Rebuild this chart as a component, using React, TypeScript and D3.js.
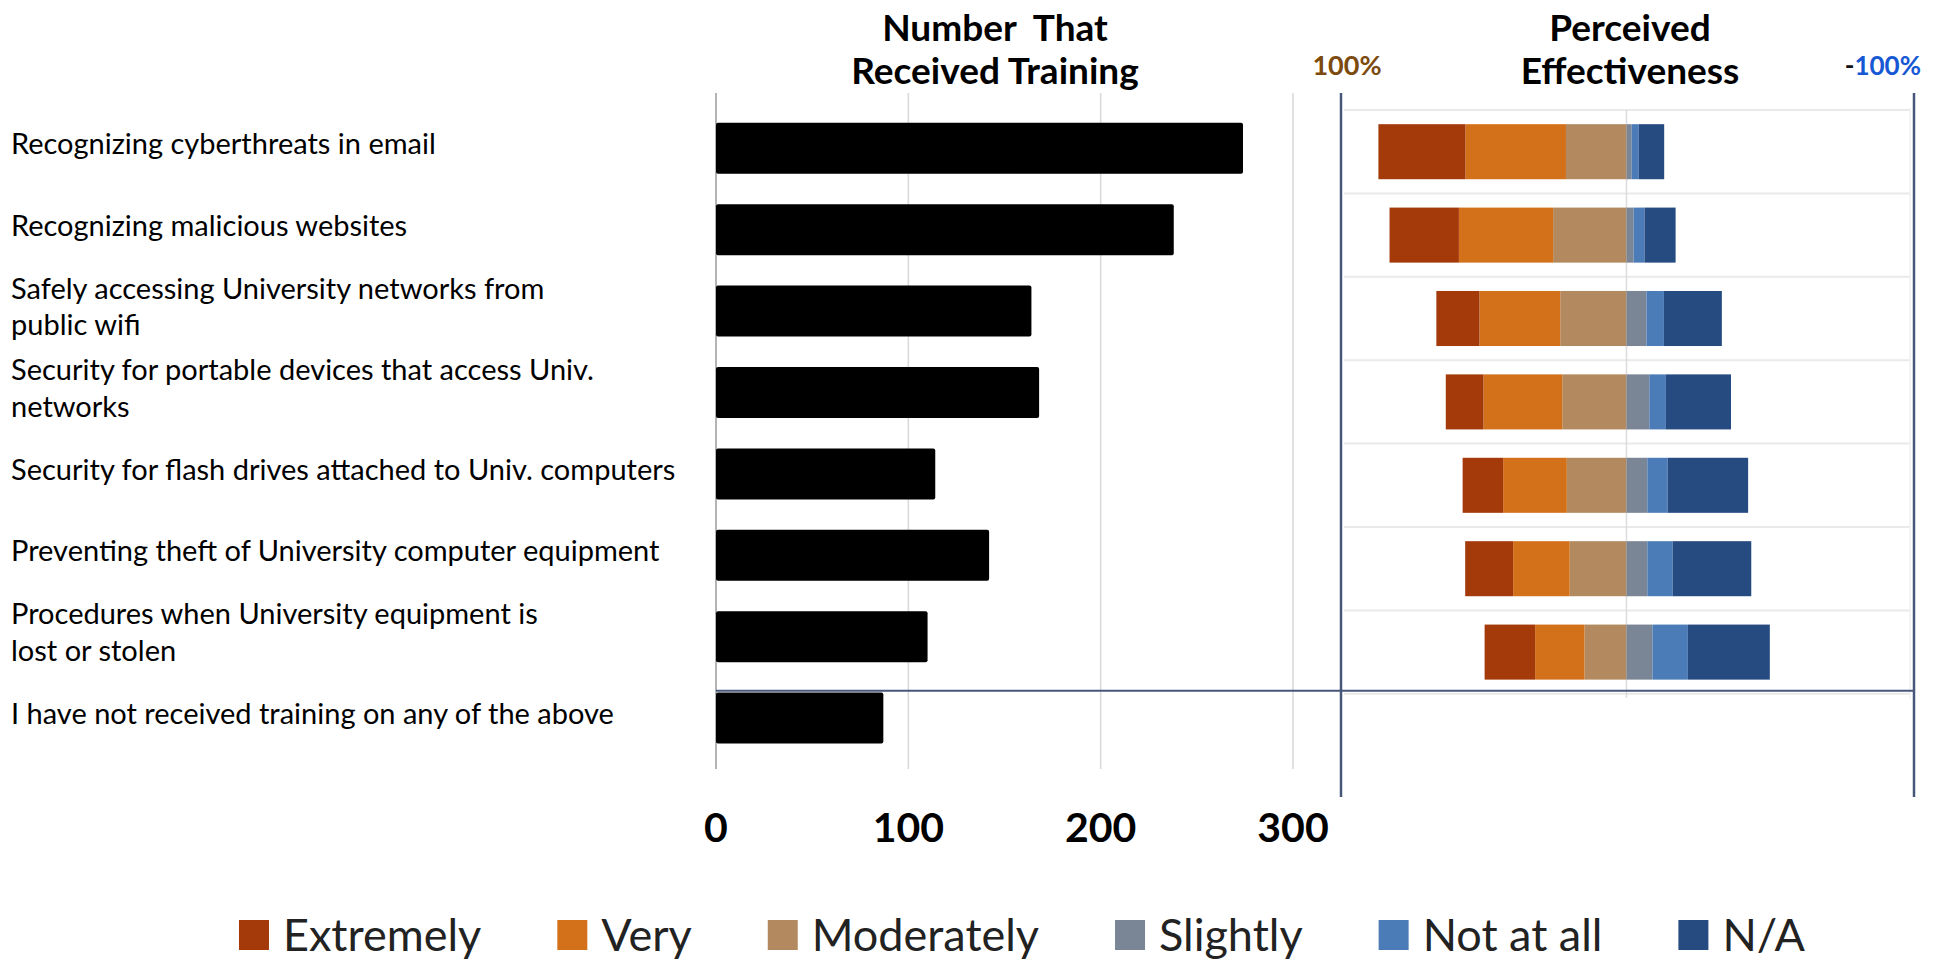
import React, { useEffect, useRef } from "react";
import * as d3 from "d3";

// Training topics (rows, top to bottom)
const topics: string[][] = [
  ["Recognizing cyberthreats in email"],
  ["Recognizing malicious websites"],
  ["Safely accessing University networks from", "public wifi"],
  ["Security for portable devices that access Univ.", "networks"],
  ["Security for flash drives attached to Univ. computers"],
  ["Preventing theft of University computer equipment"],
  ["Procedures when University equipment is", "lost or stolen"],
  ["I have not received training on any of the above"],
];

// Number of respondents that received each training
const trainedCounts: number[] = [274, 238, 164, 168, 114, 142, 110, 87];

// Perceived effectiveness (% of respondents) for the first seven topics
const extremely: number[] = [30.5, 24.3, 15.1, 13.2, 14.2, 16.8, 17.7];
const very: number[] = [35.2, 33.0, 28.3, 27.6, 22.3, 19.8, 17.3];
const moderately: number[] = [21.2, 25.7, 23.2, 22.5, 20.9, 19.9, 14.7];
const slightly: number[] = [1.8, 2.5, 7.0, 8.0, 7.3, 7.3, 9.1];
const notAtAll: number[] = [2.5, 3.8, 6.1, 5.8, 7.1, 8.9, 12.4];
const notApplicable: number[] = [8.9, 10.9, 20.3, 22.8, 28.2, 27.5, 28.7];

const countTicks: number[] = [0, 100, 200, 300];

const seriesNames = ["Extremely", "Very", "Moderately", "Slightly", "Not at all", "N/A"];
const seriesColors = ["#A43A0A", "#D3711B", "#B38A5F", "#7A8595", "#4C7CB8", "#264B80"];

const FONT = "Lato, 'Open Sans', sans-serif";

export default function App() {
  const ref = useRef<SVGSVGElement | null>(null);

  useEffect(() => {
    const svg = d3.select(ref.current);
    svg.selectAll("*").remove();

    const rows = topics.map((_, i) => i);

    // ---------- left panel: number trained ----------
    const x = d3.scaleLinear().domain([0, 300]).range([716, 1293]);
    const y = d3
      .scaleBand<number>()
      .domain(rows)
      .range([107.6, 758.8])
      .paddingInner(0.373)
      .paddingOuter(0.1865);

    const left = svg.append("g");
    left
      .selectAll("line.grid")
      .data(countTicks.filter((t) => t > 0))
      .join("line")
      .attr("x1", (d) => x(d))
      .attr("x2", (d) => x(d))
      .attr("y1", 93)
      .attr("y2", 769)
      .attr("stroke", "#dadada")
      .attr("stroke-width", 1.6);

    left
      .append("line")
      .attr("x1", x(0))
      .attr("x2", x(0))
      .attr("y1", 93)
      .attr("y2", 769)
      .attr("stroke", "#b4b4b4")
      .attr("stroke-width", 2);

    left
      .selectAll("rect.bar")
      .data(trainedCounts)
      .join("rect")
      .attr("x", x(0))
      .attr("y", (_, i) => y(i)!)
      .attr("width", (d) => x(d) - x(0))
      .attr("height", y.bandwidth())
      .attr("rx", 2)
      .attr("fill", "#000");

    left
      .selectAll("text.tick")
      .data(countTicks)
      .join("text")
      .attr("x", (d) => x(d))
      .attr("y", 842)
      .attr("text-anchor", "middle")
      .attr("font-family", FONT)
      .attr("font-weight", 700)
      .attr("font-size", 41)
      .attr("fill", "#000")
      .text((d) => String(d));

    // category labels
    const labels = svg.append("g");
    const lineH = 36.6;
    topics.forEach((lines, i) => {
      const cy = y(i)! + y.bandwidth() / 2;
      const first = cy - ((lines.length - 1) * lineH) / 2 + 6;
      const t = labels
        .append("text")
        .attr("font-family", FONT)
        .attr("font-size", 29)
        .attr("fill", "#000");
      lines.forEach((ln, k) => {
        t.append("tspan").attr("x", 11).attr("y", first + k * lineH).text(ln);
      });
    });

    // ---------- right panel: perceived effectiveness ----------
    const xr = d3.scaleLinear().domain([100, -100]).range([1341, 1912]);
    const effRows = extremely.map((_, i) => i);
    const yr = d3
      .scaleBand<number>()
      .domain(effRows)
      .range([110, 693.8])
      .paddingInner(0.34)
      .paddingOuter(0.17);

    const right = svg.append("g");
    const bounds = effRows.map((i) => yr(i)! - (yr.step() * yr.paddingInner()) / 2);
    bounds.push(yr.range()[1]);
    right
      .selectAll("line.hgrid")
      .data(bounds)
      .join("line")
      .attr("x1", 1344)
      .attr("x2", 1910)
      .attr("y1", (d) => d)
      .attr("y2", (d) => d)
      .attr("stroke", "#e9e9e9")
      .attr("stroke-width", 2);

    right
      .append("line")
      .attr("x1", 1910)
      .attr("x2", 1910)
      .attr("y1", 108)
      .attr("y2", 698)
      .attr("stroke", "#f0f0f0")
      .attr("stroke-width", 1.5);

    right
      .append("line")
      .attr("x1", xr(0))
      .attr("x2", xr(0))
      .attr("y1", 110)
      .attr("y2", 698)
      .attr("stroke", "#dcdcdc")
      .attr("stroke-width", 1.5);

    // positive responses stack to the left of centre, negative ones to the right
    const positive = [moderately, very, extremely];
    const positiveIdx = [2, 1, 0];
    const negative = [slightly, notAtAll, notApplicable];
    const negativeIdx = [3, 4, 5];

    effRows.forEach((i) => {
      let acc = 0;
      positive.forEach((arr, k) => {
        const v = arr[i];
        right
          .append("rect")
          .attr("x", xr(acc + v))
          .attr("y", yr(i)!)
          .attr("width", xr(acc) - xr(acc + v))
          .attr("height", yr.bandwidth())
          .attr("fill", seriesColors[positiveIdx[k]]);
        acc += v;
      });
      acc = 0;
      negative.forEach((arr, k) => {
        const v = arr[i];
        right
          .append("rect")
          .attr("x", xr(-acc))
          .attr("y", yr(i)!)
          .attr("width", xr(-(acc + v)) - xr(-acc))
          .attr("height", yr.bandwidth())
          .attr("fill", seriesColors[negativeIdx[k]]);
        acc += v;
      });
    });

    // frame lines and the separator under the last rated topic
    const frame = "#47577a";
    [1341, 1914].forEach((fx) => {
      svg
        .append("line")
        .attr("x1", fx)
        .attr("x2", fx)
        .attr("y1", 93)
        .attr("y2", 797)
        .attr("stroke", frame)
        .attr("stroke-width", 2.5);
    });
    svg
      .append("line")
      .attr("x1", x(0))
      .attr("x2", 1914)
      .attr("y1", yr.range()[1] - 3)
      .attr("y2", yr.range()[1] - 3)
      .attr("stroke", frame)
      .attr("stroke-width", 2);

    // ---------- titles ----------
    const titleAttrs = (sel: any) =>
      sel
        .attr("text-anchor", "middle")
        .attr("font-family", FONT)
        .attr("font-weight", 700)
        .attr("font-size", 37)
        .attr("fill", "#000")
        .style("white-space", "pre");
    titleAttrs(svg.append("text").attr("x", 995).attr("y", 41)).text("Number  That");
    titleAttrs(svg.append("text").attr("x", 995).attr("y", 84)).text("Received Training");
    titleAttrs(svg.append("text").attr("x", 1630).attr("y", 41)).text("Perceived");
    titleAttrs(svg.append("text").attr("x", 1630).attr("y", 84)).text("Effectiveness");

    svg
      .append("text")
      .attr("x", xr(100) + 6)
      .attr("y", 74.5)
      .attr("text-anchor", "middle")
      .attr("font-family", FONT)
      .attr("font-weight", 700)
      .attr("font-size", 27)
      .attr("fill", "#7d4a0e")
      .text("100%");

    const neg = svg
      .append("text")
      .attr("x", 1921)
      .attr("y", 75)
      .attr("text-anchor", "end")
      .attr("font-family", FONT)
      .attr("font-weight", 700)
      .attr("font-size", 26);
    neg.append("tspan").attr("fill", "#111").text("-");
    neg.append("tspan").attr("fill", "#1658d4").text("100%");

    // ---------- legend ----------
    const legend = svg.append("g");
    const sw = 30;
    const textGap = 14;
    const itemGap = 76;
    const items = seriesNames.map((name, i) => {
      const g = legend.append("g");
      g.append("rect")
        .attr("x", 0)
        .attr("y", 920)
        .attr("width", sw)
        .attr("height", sw)
        .attr("fill", seriesColors[i]);
      const t = g
        .append("text")
        .attr("x", sw + textGap)
        .attr("y", 951)
        .attr("font-family", FONT)
        .attr("font-size", 45)
        .attr("fill", "#222")
        .text(name);
      const w = (t.node() as SVGTextElement).getComputedTextLength();
      return { g, w: sw + textGap + w };
    });
    const total = d3.sum(items, (d) => d.w) + itemGap * (items.length - 1);
    let cx = 1022 - total / 2;
    items.forEach((it) => {
      it.g.attr("transform", `translate(${cx},0)`);
      cx += it.w + itemGap;
    });
  }, []);

  return (
    <div style={{ position: "absolute", left: 0, top: 0 }}>
      <svg ref={ref} width={1942} height={961} style={{ display: "block", background: "#fff" }} />
    </div>
  );
}
